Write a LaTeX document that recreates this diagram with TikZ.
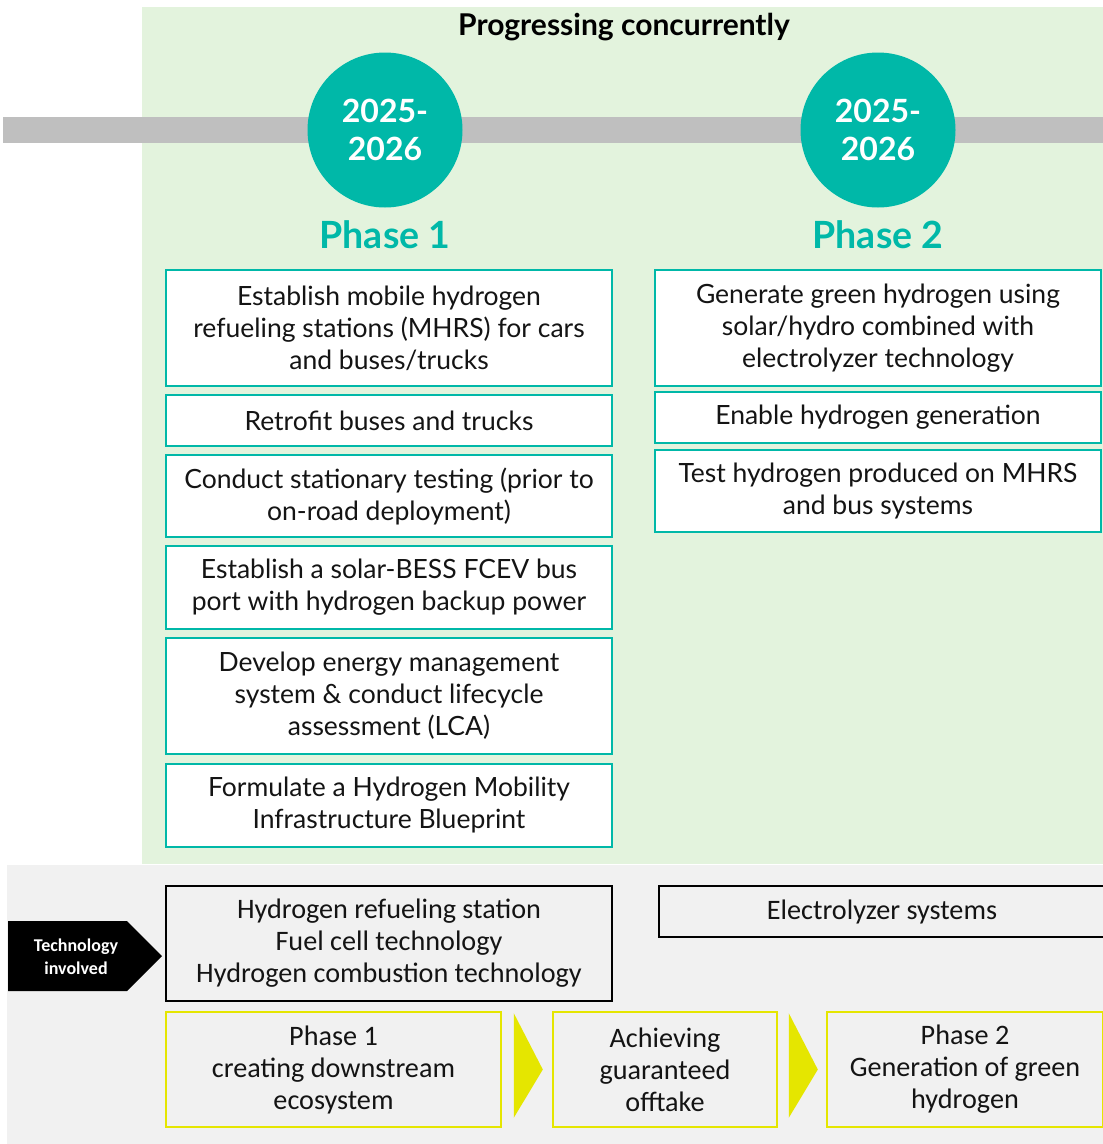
\documentclass[tikz,border=0pt]{standalone}
\usepackage{fontspec}
\setmainfont{Lato}
\newfontfamily\narrowfont{Carlito}
\begin{document}
\definecolor{teal}{RGB}{0,184,168}
\definecolor{greenbg}{RGB}{227,243,221}
\definecolor{grayband}{RGB}{241,241,241}
\definecolor{barcol}{RGB}{191,191,191}
\definecolor{yell}{RGB}{229,230,0}
\definecolor{ink}{RGB}{20,20,20}
\begin{tikzpicture}[x=1pt,y=-1pt,
  body/.style={font=\fontsize{26.5}{32}\selectfont, text=ink, align=center},
  nbody/.style={font=\narrowfont\fontsize{28.2}{32}\selectfont, text=ink, align=center},
  actbox/.style={body, draw=teal, line width=1.8pt, fill=white, minimum width=446, inner sep=0pt},
  techbox/.style={nbody, draw=black, line width=1.6pt, inner sep=0pt},
  stagebox/.style={nbody, draw=yell, line width=1.6pt, inner sep=0pt, minimum height=115},
  yearcircle/.style={circle, fill=teal, minimum size=155, inner sep=0pt, text=white,
    font=\bfseries\fontsize{32}{38}\selectfont, align=center},
  phaselabel/.style={text=teal, font=\bfseries\fontsize{37.5}{40}\selectfont},
  chevron/.style={fill=yell}
]
\useasboundingbox (0,0) rectangle (1103,1144);

% backgrounds
\fill[greenbg] (142,7) rectangle (1103,864);
\fill[grayband] (7,865) rectangle (1103,1144);
\fill[barcol] (3,117) rectangle (1103,143);

\node[font=\bfseries\fontsize{30}{32}\selectfont, text=black] (title) at (624,27) {Progressing concurrently};

% timeline markers
\node[yearcircle] (y1) at (385,130) {2025-\\2026};
\node[yearcircle] (y2) at (878,130) {2025-\\2026};
\node[phaselabel] (ph1) at (385,235) {Phase 1};
\node[phaselabel] (ph2) at (878,235) {Phase 2};

% phase 1 activities
\node[actbox, minimum height=116] (a1) at (389,328)
  {Establish mobile hydrogen\\refueling stations (MHRS) for cars\\and buses/trucks};
\node[actbox, minimum height=51] (a2) at (389,420.5) {Retrofit buses and trucks};
\node[actbox, minimum height=82] (a3) at (389,496)
  {Conduct stationary testing (prior to\\on-road deployment)};
\node[actbox, minimum height=83] (a4) at (389,587.5)
  {Establish a solar-BESS FCEV bus\\port with hydrogen backup power};
\node[actbox, minimum height=116] (a5) at (389,696)
  {Develop energy management\\system \& conduct lifecycle\\assessment (LCA)};
\node[actbox, minimum height=83] (a6) at (389,805.5)
  {Formulate a Hydrogen Mobility\\Infrastructure Blueprint};

% phase 2 activities
\node[actbox, minimum height=116] (b1) at (878,328)
  {Generate green hydrogen using\\solar/hydro combined with\\electrolyzer technology};
\node[actbox, minimum height=51] (b2) at (878,417.5) {Enable hydrogen generation};
\node[actbox, minimum height=82] (b3) at (878,491)
  {Test hydrogen produced on MHRS\\and bus systems};

% technology row
\fill[black] (8,921) -- (127,921) -- (162,956) -- (127,991) -- (8,991) -- cycle;
\node[text=white, font=\narrowfont\bfseries\fontsize{18}{23}\selectfont, align=center]
  (techlbl) at (76,957) {Technology\\involved};
\node[techbox, minimum width=446, minimum height=115] (t1) at (389,943.5)
  {Hydrogen refueling station\\Fuel cell technology\\Hydrogen combustion technology};
\node[techbox, minimum width=446, minimum height=51] (t2) at (882,911.5) {Electrolyzer systems};

% stages
\node[stagebox, minimum width=335] (s1) at (333.5,1069.5)
  {Phase 1\\creating downstream\\ecosystem};
\node[stagebox, minimum width=224] (s2) at (665,1069.5)
  {Achieving\\guaranteed\\offtake};
\node[stagebox, minimum width=276] (s3) at (965,1069.5)
  {Phase 2\\Generation of green\\hydrogen};

\fill[chevron] ([shift={(12,2)}]s1.north east) -- ([shift={(41,0)}]s1.east)
  -- ([shift={(12,-10)}]s1.south east) -- cycle;
\fill[chevron] ([shift={(11,2)}]s2.north east) -- ([shift={(40,0)}]s2.east)
  -- ([shift={(11,-10)}]s2.south east) -- cycle;
\end{tikzpicture}
\end{document}
